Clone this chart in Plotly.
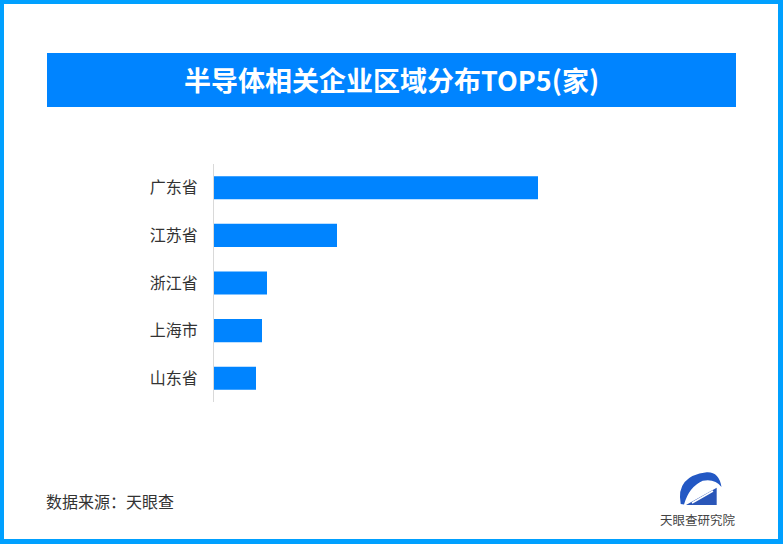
import plotly.graph_objects as go

categories = ["广东省", "江苏省", "浙江省", "上海市", "山东省"]
values = [3240, 1230, 530, 480, 420]
title_text = "半导体相关企业区域分布TOP5(家)"
source_text = "数据来源：天眼查"
logo_text = "天眼查研究院"

W, H = 783, 544
L, R, T, B = 214, 83, 164, 142
PW, PH = W - L - R, H - T - B

def px(x):
    return (x - L) / PW

def py(y):
    return (H - B - y) / PH

def path(points, curves):
    s = "M %.4f %.4f " % (px(points[0][0]), py(points[0][1]))
    for c, p in curves:
        s += "Q %.4f %.4f %.4f %.4f " % (px(c[0]), py(c[1]), px(p[0]), py(p[1]))
    return s + "Z"

BAR = "#0084FF"
BORDER = "#00A0FF"
FONT = "Noto Sans CJK SC"

fig = go.Figure(go.Bar(
    y=categories, x=values, orientation="h",
    marker=dict(color=BAR, line=dict(width=0)),
    hoverinfo="x+y",
))

xmax = values[0] * PW / 324.0

shapes = [
    dict(type="rect", xref="paper", yref="paper", x0=px(4), x1=px(778), y0=py(539), y1=py(4),
         fillcolor="white", line=dict(width=0), layer="below"),
    dict(type="rect", xref="paper", yref="paper", x0=px(47), x1=px(736), y0=py(107), y1=py(53),
         fillcolor=BAR, line=dict(width=0), layer="below"),
    # logo crescent
    dict(type="path", xref="paper", yref="paper",
         path=path([(680.7, 504)], [((675.5, 476), (706.7, 472.2)),
                                     ((719, 471.5), (721.5, 487)),
                                     ((715, 478.3), (702.7, 480.7)),
                                     ((689, 486.7), (684, 504.5))]),
         fillcolor="#2358c4", line=dict(width=0)),
    # logo triangle
    dict(type="path", xref="paper", yref="paper",
         path="M %.4f %.4f L %.4f %.4f L %.4f %.4f Z" % (px(686), py(505), px(716.7), py(487.7), px(716.7), py(505)),
         fillcolor="#2a56b8", line=dict(width=0)),
    dict(type="line", xref="paper", yref="paper", x0=px(692), y0=py(503), x1=px(713), y1=py(491),
         line=dict(color="white", width=1.5)),
]

annotations = [
    dict(text="<b>" + title_text + "</b>", xref="paper", yref="paper", x=px(391.5), y=py(80),
         xanchor="center", yanchor="middle", showarrow=False,
         font=dict(family=FONT, size=27, color="white")),
    dict(text=source_text, xref="paper", yref="paper", x=px(44), y=py(501),
         xanchor="left", yanchor="middle", showarrow=False,
         font=dict(family=FONT, size=16, color="#333333")),
    dict(text=logo_text, xref="paper", yref="paper", x=px(697.5), y=py(519),
         xanchor="center", yanchor="middle", showarrow=False,
         font=dict(family=FONT, size=12.5, color="#444444")),
]

fig.update_layout(
    width=W, height=H,
    margin=dict(l=L, r=R, t=T, b=B, pad=0),
    paper_bgcolor=BORDER, plot_bgcolor="rgba(0,0,0,0)",
    bargap=0.515, showlegend=False,
    shapes=shapes, annotations=annotations,
    font=dict(family=FONT),
    xaxis=dict(range=[0, xmax], visible=False, fixedrange=True),
    yaxis=dict(categoryorder="array", categoryarray=categories[::-1],
               showline=True, linecolor="#d9d9d9", linewidth=1,
               showgrid=False, zeroline=False, ticks="", ticklabelstandoff=12,
               tickfont=dict(family=FONT, size=16, color="#333333"), fixedrange=True),
)

fig.write_html("out.html", config={"displayModeBar": False},
               post_script="document.body.style.margin='0';document.body.style.overflow='hidden';")
